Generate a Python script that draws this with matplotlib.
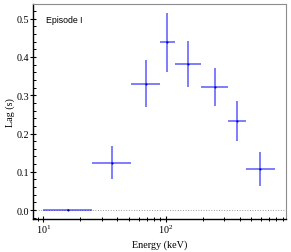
import numpy as np
import matplotlib
matplotlib.use('Agg')
import matplotlib.pyplot as plt
from matplotlib.ticker import MultipleLocator, LogLocator

plt.rcParams['font.family'] = 'Liberation Serif'
plt.rcParams['mathtext.fontset'] = 'stix'

# energy bins (keV) and lag values (s)
e_lo = [10, 25, 52, 90, 118, 195, 325, 450]
e_hi = [25, 52, 90, 118, 195, 325, 450, 780]
lag = [0.0, 0.124, 0.330, 0.438, 0.382, 0.321, 0.233, 0.107]
lag_err = [0.002, 0.044, 0.061, 0.077, 0.060, 0.050, 0.053, 0.045]

e_lo = np.array(e_lo, float)
e_hi = np.array(e_hi, float)
e_mid = np.sqrt(e_lo * e_hi)

fig = plt.figure(figsize=(2.91, 2.53), dpi=100)
ax = fig.add_axes([0.113, 0.130, 0.870, 0.850])

ax.axhline(0, color='0.6', lw=0.7, ls=':', zorder=0)
ax.errorbar(e_mid, lag, xerr=[e_mid - e_lo, e_hi - e_mid], yerr=lag_err,
            fmt='none', ecolor='blue', elinewidth=1.3, alpha=0.55, capsize=0)
ax.plot(e_mid, lag, 'o', color='#0000aa', ms=1.5, mew=0)

ax.set_xscale('log')
ax.set_xlim(8.2, 960)
ax.set_ylim(-0.0235, 0.538)
ax.yaxis.set_major_locator(MultipleLocator(0.1))
ax.yaxis.set_minor_locator(MultipleLocator(0.02))
ax.yaxis.set_major_formatter(plt.FormatStrFormatter('%.1f'))
ax.xaxis.set_major_locator(LogLocator(base=10))
ax.xaxis.set_minor_locator(LogLocator(base=10, subs=np.arange(2, 10)))

ax.tick_params(which='both', direction='inout', labelsize=7.3, top=False, right=False, pad=0.5)
ax.tick_params(which='major', length=4, width=0.8)
ax.tick_params(which='minor', length=2.5, width=0.7)
ax.tick_params(axis='y', which='minor', direction='in')

for s in ['top', 'right']:
    ax.spines[s].set_color('0.55')
ax.spines['left'].set_linewidth(1.0)
ax.spines['bottom'].set_linewidth(1.0)

ax.set_xlabel('Energy (keV)', fontsize=7.3, labelpad=3)
ax.set_ylabel('Lag (s)', fontsize=7.3, labelpad=1)
ax.text(0.05, 0.95, 'Episode I', transform=ax.transAxes, fontsize=6.3,
        family='Liberation Sans', va='top', ha='left')

fig.savefig('out.png', dpi=100)
